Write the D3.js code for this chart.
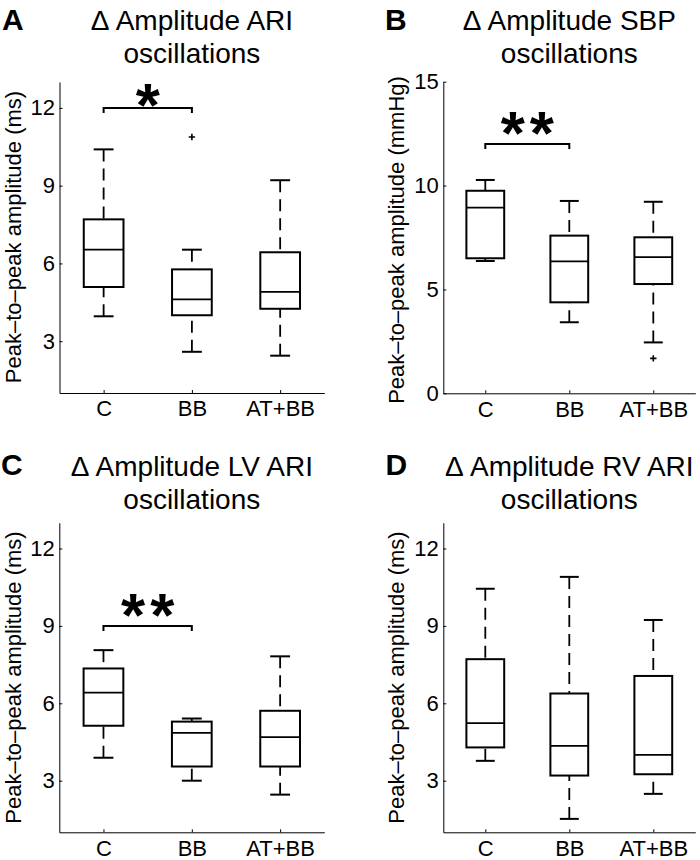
<!DOCTYPE html>
<html>
<head>
<meta charset="utf-8">
<script src="https://cdn.jsdelivr.net/npm/d3@7"></script>
<style>
  html, body { margin: 0; padding: 0; background: #fff; }
  svg { display: block; }
  text { font-family: "Liberation Sans", Arial, Helvetica, sans-serif; fill: #000; }
</style>
</head>
<body>
<svg id="chart" width="700" height="860"></svg>
<script>
// ---------------- data ----------------
const categories = ["C", "BB", "AT+BB"];
const ticksMs = [3, 6, 9, 12];
const ticksMmHg = [0, 5, 10, 15];

// Panel A: Δ Amplitude ARI oscillations (ms)
const ariLower   = [3.96, 2.59, 2.44];
const ariQ1      = [5.09, 4.00, 4.25];
const ariMedian  = [6.53, 4.61, 4.90];
const ariQ3      = [7.70, 5.77, 6.43];
const ariUpper   = [10.40, 6.53, 9.21];
const ariOutliers = [[], [10.88], []];

// Panel B: Δ Amplitude SBP oscillations (mmHg)
const sbpLower   = [6.37, 3.42, 2.45];
const sbpQ1      = [6.50, 4.38, 5.26];
const sbpMedian  = [8.94, 6.35, 6.56];
const sbpQ3      = [9.75, 7.59, 7.51];
const sbpUpper   = [10.27, 9.26, 9.22];
const sbpOutliers = [[], [], [1.68]];

// Panel C: Δ Amplitude LV ARI oscillations (ms)
const lvLower    = [3.89, 3.00, 2.46];
const lvQ1       = [5.13, 3.55, 3.55];
const lvMedian   = [6.41, 4.85, 4.69];
const lvQ3       = [7.35, 5.29, 5.71];
const lvUpper    = [8.06, 5.41, 7.82];
const lvOutliers = [[], [], []];

// Panel D: Δ Amplitude RV ARI oscillations (ms)
const rvLower    = [3.77, 1.52, 2.49];
const rvQ1       = [4.29, 3.20, 3.25];
const rvMedian   = [5.23, 4.35, 4.00];
const rvQ3       = [7.71, 6.38, 7.06];
const rvUpper    = [10.44, 10.90, 9.23];
const rvOutliers = [[], [], []];

// significance brackets: [from category index, to category index, level, label]
const sigA = [[0, 1, 12, "*"]];
const sigB = [[0, 1, 12, "**"]];
const sigC = [[0, 1, 9, "**"]];
const sigD = [];

// ---------------- layout ----------------
const FONT = "\"Liberation Sans\", Arial, Helvetica, sans-serif";
const svg = d3.select("#chart");

const panels = [
  { letter: "A", title: ["\u0394 Amplitude ARI", "oscillations"], ylabel: "Peak\u2013to\u2013peak amplitude (ms)",
    left: 59.5, right: 324.3, top: 82, bottom: 393, yDomain: [1, 13], ticks: ticksMs,
    stats: [ariLower, ariQ1, ariMedian, ariQ3, ariUpper], outliers: ariOutliers, sig: sigA, starDy: 18,
    letterX: 2, titleY: 30, labelX: 21, labelY: 237 },
  { letter: "B", title: ["\u0394 Amplitude SBP", "oscillations"], ylabel: "Peak\u2013to\u2013peak amplitude (mmHg)",
    left: 443.3, right: 695.3, top: 81.7, bottom: 393.3, yDomain: [0, 15], ticks: ticksMmHg,
    stats: [sbpLower, sbpQ1, sbpMedian, sbpQ3, sbpUpper], outliers: sbpOutliers, sig: sigB, starDy: 10,
    letterX: 385, titleY: 30, labelX: 404, labelY: 240 },
  { letter: "C", title: ["\u0394 Amplitude LV ARI", "oscillations"], ylabel: "Peak\u2013to\u2013peak amplitude (ms)",
    left: 59.3, right: 324.3, top: 522.7, bottom: 832.3, yDomain: [1, 13], ticks: ticksMs,
    stats: [lvLower, lvQ1, lvMedian, lvQ3, lvUpper], outliers: lvOutliers, sig: sigC, starDy: 10,
    letterX: 1, titleY: 475.5, labelX: 21, labelY: 677.5 },
  { letter: "D", title: ["\u0394 Amplitude RV ARI", "oscillations"], ylabel: "Peak\u2013to\u2013peak amplitude (ms)",
    left: 443.3, right: 695.3, top: 522.7, bottom: 832.3, yDomain: [1, 13], ticks: ticksMs,
    stats: [rvLower, rvQ1, rvMedian, rvQ3, rvUpper], outliers: rvOutliers, sig: sigD, starDy: 10,
    letterX: 385.5, titleY: 475.5, labelX: 404, labelY: 677.5 }
];

const BOX_HALF = 0.225;   // in category units
const CAP_HALF = 0.1125;
const STAR_SPACING = 5;

panels.forEach(p => {
  const g = svg.append("g");
  const x = d3.scaleLinear().domain([0.5, 3.5]).range([p.left, p.right]);
  const y = d3.scaleLinear().domain(p.yDomain).range([p.bottom, p.top]);

  // axes
  const yAxis = d3.axisLeft(y).tickValues(p.ticks).tickSizeInner(-3).tickSizeOuter(0).tickPadding(4.5);
  const ya = g.append("g").attr("transform", `translate(${p.left},0)`).call(yAxis);
  const xAxis = d3.axisBottom(x).tickValues([1, 2, 3]).tickFormat(d => categories[d - 1])
    .tickSizeInner(-3).tickSizeOuter(0).tickPadding(7.8);
  const xa = g.append("g").attr("transform", `translate(0,${p.bottom})`).call(xAxis);
  [ya, xa].forEach(a => {
    a.attr("font-family", FONT).attr("font-size", 22);
    a.selectAll("text").attr("fill", "#000");
    a.selectAll("path, line").attr("stroke", "#000").attr("stroke-width", 1);
  });

  // boxes
  const [lo, q1, med, q3, hi] = p.stats;
  categories.forEach((c, i) => {
    const cx = i + 1;
    // whiskers (dashed, drawn from cap toward box)
    g.append("line").attr("x1", x(cx)).attr("x2", x(cx)).attr("y1", y(hi[i])).attr("y2", y(q3[i]))
      .attr("stroke", "#000").attr("stroke-width", 1.8).attr("stroke-dasharray", "12,7");
    g.append("line").attr("x1", x(cx)).attr("x2", x(cx)).attr("y1", y(lo[i])).attr("y2", y(q1[i]))
      .attr("stroke", "#000").attr("stroke-width", 1.8).attr("stroke-dasharray", "12,7");
    // caps
    [hi[i], lo[i]].forEach(v => {
      g.append("line").attr("x1", x(cx - CAP_HALF)).attr("x2", x(cx + CAP_HALF))
        .attr("y1", y(v)).attr("y2", y(v)).attr("stroke", "#000").attr("stroke-width", 2);
    });
    // box
    g.append("rect").attr("x", x(cx - BOX_HALF)).attr("width", x(cx + BOX_HALF) - x(cx - BOX_HALF))
      .attr("y", y(q3[i])).attr("height", y(q1[i]) - y(q3[i]))
      .attr("fill", "none").attr("stroke", "#000").attr("stroke-width", 2);
    // median
    g.append("line").attr("x1", x(cx - BOX_HALF)).attr("x2", x(cx + BOX_HALF))
      .attr("y1", y(med[i])).attr("y2", y(med[i])).attr("stroke", "#000").attr("stroke-width", 1.8);
    // outliers '+'
    p.outliers[i].forEach(v => {
      const px = x(cx), py = y(v), s = 3.2;
      g.append("path").attr("d", `M${px - s},${py}H${px + s}M${px},${py - s}V${py + s}`)
        .attr("stroke", "#000").attr("stroke-width", 1.6).attr("fill", "none");
    });
  });

  // significance brackets
  p.sig.forEach(([a, b, lvl, lab]) => {
    const xa1 = x(a + 1), xb1 = x(b + 1), yy = y(lvl);
    g.append("path").attr("d", `M${xa1},${yy + 5}V${yy}H${xb1}V${yy + 5}`)
      .attr("fill", "none").attr("stroke", "#000").attr("stroke-width", 2);
    g.append("text").attr("x", (xa1 + xb1) / 2 + (lab.length > 1 ? STAR_SPACING / 2 : 0)).attr("y", yy + p.starDy)
      .attr("text-anchor", "middle").attr("font-size", 62).attr("font-weight", "bold")
      .attr("letter-spacing", lab.length > 1 ? STAR_SPACING : 0)
      .attr("font-family", FONT).text(lab);
  });

  // titles
  const cxT = (p.left + p.right) / 2;
  p.title.forEach((t, k) => {
    g.append("text").attr("x", cxT).attr("y", p.titleY + k * 33.4).attr("text-anchor", "middle")
      .attr("font-size", 28).attr("font-family", FONT).text(t);
  });
  // panel letter
  g.append("text").attr("x", p.letterX).attr("y", p.titleY - 0.5).attr("font-size", 30)
    .attr("font-weight", "bold").attr("font-family", FONT).text(p.letter);
  // y label
  g.append("text").attr("transform", `translate(${p.labelX},${p.labelY}) rotate(-90)`)
    .attr("text-anchor", "middle").attr("font-size", 22).attr("font-family", FONT).text(p.ylabel);
});
</script>
</body>
</html>
